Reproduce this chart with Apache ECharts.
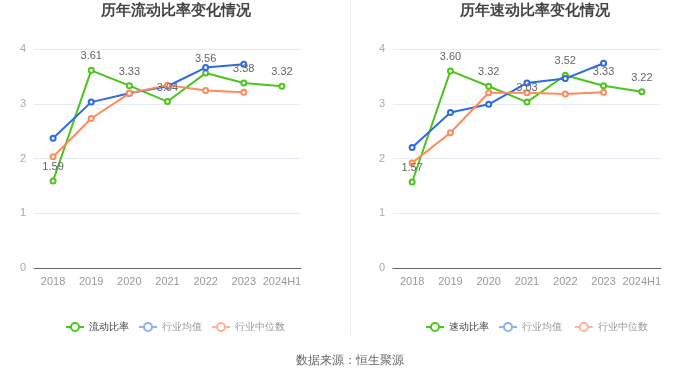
<!DOCTYPE html>
<html><head><meta charset="utf-8">
<script src="https://cdn.jsdelivr.net/npm/echarts@6/dist/echarts.min.js"></script>
<style>html,body{margin:0;padding:0;background:#fff}#c{width:700px;height:378px}</style>
</head><body><div id="c"></div>
<script>
const categories = ['2018','2019','2020','2021','2022','2023','2024H1'];
const yTicks = [0,1,2,3,4];
const currentRatio = [1.59,3.61,3.33,3.04,3.56,3.38,3.32];
const currentIndAvg = [2.37,3.03,3.19,3.32,3.66,3.72];
const currentIndMed = [2.03,2.73,3.19,3.34,3.24,3.21];
const quickRatio = [1.57,3.60,3.32,3.03,3.52,3.33,3.22];
const quickIndAvg = [2.20,2.84,2.99,3.38,3.46,3.74];
const quickIndMed = [1.92,2.47,3.20,3.20,3.18,3.21];

const GREEN='#4cc51c', BLUE='#2d6be4', ORANGE='#ff8a5c';
const chart = echarts.init(document.getElementById('c'));
function xAxis(i){return {type:'category',gridIndex:i,data:categories,boundaryGap:true,
  axisLine:{lineStyle:{color:'#666'}},axisTick:{alignWithLabel:true,lineStyle:{color:'#666'}},
  axisLabel:{color:'#999',fontSize:11,interval:0}};}
function yAxis(i){return {type:'value',gridIndex:i,min:yTicks[0],max:yTicks[yTicks.length-1],interval:1,
  axisLine:{show:false},axisTick:{show:false},axisLabel:{color:'#aaa',fontSize:11},
  splitLine:{lineStyle:{color:'#e6ecf5'}}};}
function ser(name,data,color,i,label){return {name,type:'line',xAxisIndex:i,yAxisIndex:i,data,
  symbol:'emptyCircle',symbolSize:5,lineStyle:{width:2,color},itemStyle:{color},
  label:{show:label,position:'top',distance:5,color:'#666',fontSize:11,formatter:p=>p.value.toFixed(2)}};}
function legend(names,left){return {left:left,top:317,itemWidth:18,itemHeight:10,itemGap:9,
  data:[{name:names[0],itemStyle:{color:GREEN},lineStyle:{color:GREEN}, textStyle:{color:'#444'}},
        {name:names[1],itemStyle:{color:'#8fb0f2'},lineStyle:{color:'#8fb0f2'}, textStyle:{color:'#999'}},
        {name:names[2],itemStyle:{color:'#ffb499'},lineStyle:{color:'#ffb499'}, textStyle:{color:'#999'}}],
  textStyle:{fontSize:10}};}
chart.setOption({
  animation:false,
  title:[{text:'历年流动比率变化情况',left:171,textAlign:'center',top:-2,textStyle:{fontSize:15,fontWeight:'bold',color:'#444'}},
         {text:'历年速动比率变化情况',left:530,textAlign:'center',top:-2,textStyle:{fontSize:15,fontWeight:'bold',color:'#444'}}],
  grid:[{left:34,right:399,top:49,bottom:110},{left:393,right:39,top:49,bottom:110}],
  xAxis:[xAxis(0),xAxis(1)],
  yAxis:[yAxis(0),yAxis(1)],
  legend:[legend(['流动比率','行业均值','行业中位数'],60),
          legend(['速动比率','行业均值 ','行业中位数 '],420)],
  series:[
    ser('流动比率',currentRatio,GREEN,0,true),
    ser('行业均值',currentIndAvg,BLUE,0,false),
    ser('行业中位数',currentIndMed,ORANGE,0,false),
    ser('速动比率',quickRatio,GREEN,1,true),
    ser('行业均值 ',quickIndAvg,BLUE,1,false),
    ser('行业中位数 ',quickIndMed,ORANGE,1,false)
  ],
  graphic:[
    {type:'line',shape:{x1:350.5,y1:0,x2:350.5,y2:335},style:{stroke:'#eee',lineWidth:1}},
    {type:'text',left:'center',top:355,style:{text:'数据来源：恒生聚源',fill:'#666',fontSize:12}}
  ]
});
</script></body></html>
